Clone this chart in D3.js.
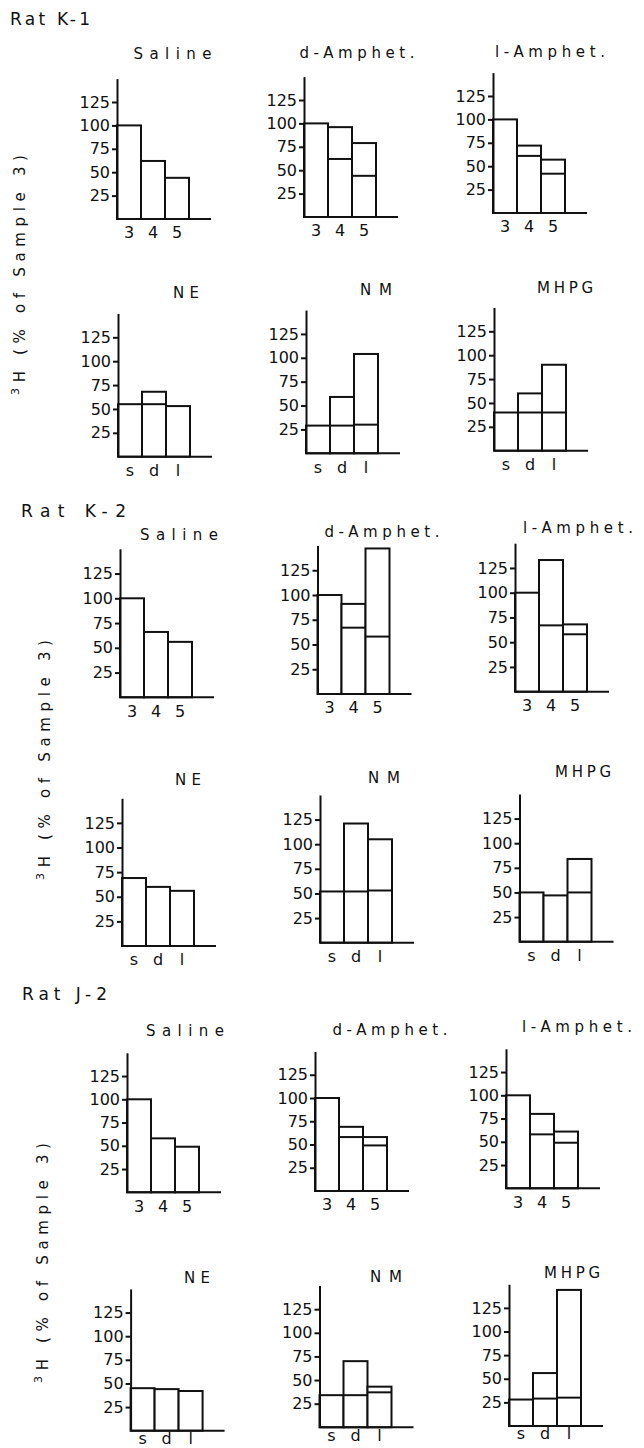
<!DOCTYPE html>
<html>
<head>
<meta charset="utf-8">
<script src="https://cdn.jsdelivr.net/npm/d3@7"></script>
<style>
  body { margin: 0; background: #fff; }
  svg { font-family: "DejaVu Sans", sans-serif; }
  .bar { fill: #fff; stroke: #111; stroke-width: 2; }
  .inner, .base, .axis path, .axis line { stroke: #111; stroke-width: 2; fill: none; }
  .axis text { font-size: 16px; fill: #111; font-family: "DejaVu Sans", sans-serif; }
  .xlab text { font-size: 16px; fill: #111; font-family: "DejaVu Sans", sans-serif; }
  .title, .rat, .ylab { fill: #111; }
</style>
</head>
<body>
<script>
// ---- data: 3H as % of sample 3 ----
var rats = ["Rat K-1", "Rat K-2", "Rat J-2"];
var drugTitles = ["Saline", "d-Amphet.", "l-Amphet."];
var amineTitles = ["NE", "NM", "MHPG"];
var sampleTicks = ["3", "4", "5"];
var drugTicks = ["s", "d", "l"];
var yTicks = [25, 50, 75, 100, 125];

// Rat K-1
var k1Saline = [100, 62, 44],   k1SalineIn = [null, null, null];
var k1DAmph = [100, 96, 79],    k1DAmphIn = [null, 62, 44];
var k1LAmph = [100, 72, 57],    k1LAmphIn = [null, 61, 42];
var k1NE = [55, 68, 53],        k1NEIn = [null, 55, null];
var k1NM = [29, 59, 104],       k1NMIn = [null, 29, 30];
var k1MHPG = [40, 60, 90],      k1MHPGIn = [null, 40, 40];
// Rat K-2
var k2Saline = [100, 66, 56],   k2SalineIn = [null, null, null];
var k2DAmph = [100, 91, 147],   k2DAmphIn = [null, 67, 58];
var k2LAmph = [100, 133, 68],   k2LAmphIn = [null, 67, 58];
var k2NE = [69, 60, 56],        k2NEIn = [null, null, null];
var k2NM = [52, 121, 105],      k2NMIn = [null, 52, 53];
var k2MHPG = [50, 47, 84],      k2MHPGIn = [null, null, 50];
// Rat J-2
var j2Saline = [100, 58, 49],   j2SalineIn = [null, null, null];
var j2DAmph = [100, 69, 58],    j2DAmphIn = [null, 58, 49];
var j2LAmph = [100, 80, 61],    j2LAmphIn = [null, 58, 49];
var j2NE = [45, 44, 42],        j2NEIn = [null, null, null];
var j2NM = [34, 70, 43],        j2NMIn = [null, 34, 37];
var j2MHPG = [28, 56, 144],     j2MHPGIn = [null, 29, 30];

var rows = [
  [[k1Saline, k1SalineIn], [k1DAmph, k1DAmphIn], [k1LAmph, k1LAmphIn]],
  [[k1NE, k1NEIn], [k1NM, k1NMIn], [k1MHPG, k1MHPGIn]],
  [[k2Saline, k2SalineIn], [k2DAmph, k2DAmphIn], [k2LAmph, k2LAmphIn]],
  [[k2NE, k2NEIn], [k2NM, k2NMIn], [k2MHPG, k2MHPGIn]],
  [[j2Saline, j2SalineIn], [j2DAmph, j2DAmphIn], [j2LAmph, j2LAmphIn]],
  [[j2NE, j2NEIn], [j2NM, j2NMIn], [j2MHPG, j2MHPGIn]]
];

// ---- layout (hand drawn original, so panels are not perfectly aligned) ----
var axisX = [[117, 304, 493], [118, 306, 494], [120, 317.5, 515], [122, 320, 519.5], [127, 315, 506], [130.6, 319.5, 509]];
var baseY = [[219, 217, 213], [456.7, 453.3, 450.7], [697.3, 694, 691.7], [946, 942.7, 941.7], [1192.3, 1191, 1188.3], [1430.7, 1427.3, 1426]];
var unit = [0.936, 0.955, 0.99, 0.985, 0.93, 0.945];
var xPad = [8, 8, 8, 8, 8, 2];
var titleDx = [[55.5, 53, 57], [68, 70, 71], [59, 64.5, 63], [66, 64, 63.5], [58, 75, 71], [66.4, 66.5, 63]];
var titleY = [[59, 58, 57], [298, 295, 293], [540, 537, 533], [785, 783, 777], [1036, 1035, 1032], [1283, 1282, 1278]];
var titleLen = {"Saline": 78, "d-Amphet.": 115, "l-Amphet.": 110, "NE": 26, "NM": 32, "MHPG": 56};
var ratPos = [[10, 25, 80], [21, 517, 105], [22, 1000, 85]];
var yLabPos = [[20, 275], [45, 760], [43, 1263]];
var barsW = 72, baseW = 94, yMax = 150;

var svg = d3.select("body").append("svg")
    .attr("width", 644)
    .attr("height", 1448);

rows.forEach(function(row, ri) {
  var isDrug = ri % 2 === 0;
  var titles = isDrug ? drugTitles : amineTitles;
  var ticks = isDrug ? sampleTicks : drugTicks;

  row.forEach(function(panel, ci) {
    var outer = panel[0], inner = panel[1];
    var x0 = axisX[ri][ci], y0 = baseY[ri][ci];

    var x = d3.scaleBand().domain(ticks).range([x0, x0 + barsW]).padding(0);
    var y = d3.scaleLinear().domain([0, yMax]).range([y0, y0 - yMax * unit[ri]]);

    var g = svg.append("g");
    var data = ticks.map(function(t, i) { return {k: t, v: outer[i], w: inner[i]}; });

    g.selectAll(".bar")
      .data(data)
      .enter().append("rect")
        .attr("class", "bar")
        .attr("x", function(d) { return x(d.k); })
        .attr("y", function(d) { return y(d.v); })
        .attr("width", x.bandwidth())
        .attr("height", function(d) { return y(0) - y(d.v); });

    g.selectAll(".inner")
      .data(data.filter(function(d) { return d.w != null; }))
      .enter().append("line")
        .attr("class", "inner")
        .attr("x1", function(d) { return x(d.k); })
        .attr("x2", function(d) { return x(d.k) + x.bandwidth(); })
        .attr("y1", function(d) { return y(d.w); })
        .attr("y2", function(d) { return y(d.w); });

    // baseline runs past the bars
    g.append("line")
      .attr("class", "base")
      .attr("x1", x0).attr("x2", x0 + baseW)
      .attr("y1", y0).attr("y2", y0);

    g.append("g")
      .attr("class", "axis")
      .attr("transform", "translate(" + x0 + ",0)")
      .call(d3.axisLeft(y).tickValues(yTicks).tickSize(5).tickSizeOuter(0).tickPadding(2))
      .attr("font-size", null).attr("font-family", null);

    var xa = g.append("g")
      .attr("class", "xlab")
      .attr("transform", "translate(0," + y0 + ")")
      .call(d3.axisBottom(x).tickSize(0).tickPadding(xPad[ri]))
      .attr("font-size", null).attr("font-family", null);
    xa.select(".domain").remove();

    g.append("text")
      .attr("class", "title")
      .attr("x", x0 + titleDx[ri][ci])
      .attr("y", titleY[ri][ci])
      .attr("text-anchor", "middle")
      .attr("font-size", 15)
      .attr("textLength", titleLen[titles[ci]])
      .attr("lengthAdjust", "spacing")
      .text(titles[ci]);
  });
});

rats.forEach(function(r, i) {
  svg.append("text")
    .attr("class", "rat")
    .attr("x", ratPos[i][0])
    .attr("y", ratPos[i][1])
    .attr("font-size", 17)
    .attr("textLength", ratPos[i][2])
    .attr("lengthAdjust", "spacing")
    .text(r);

  var t = svg.append("text")
    .attr("class", "ylab")
    .attr("transform", "translate(" + yLabPos[i][0] + "," + yLabPos[i][1] + ") rotate(-90)")
    .attr("text-anchor", "middle")
    .attr("dominant-baseline", "central")
    .attr("font-size", 15)
    .attr("textLength", 240)
    .attr("lengthAdjust", "spacing");
  t.append("tspan").attr("font-size", 11).attr("dy", -5).text("3");
  t.append("tspan").attr("dy", 5).text("H (% of Sample 3)");
});
</script>
</body>
</html>
